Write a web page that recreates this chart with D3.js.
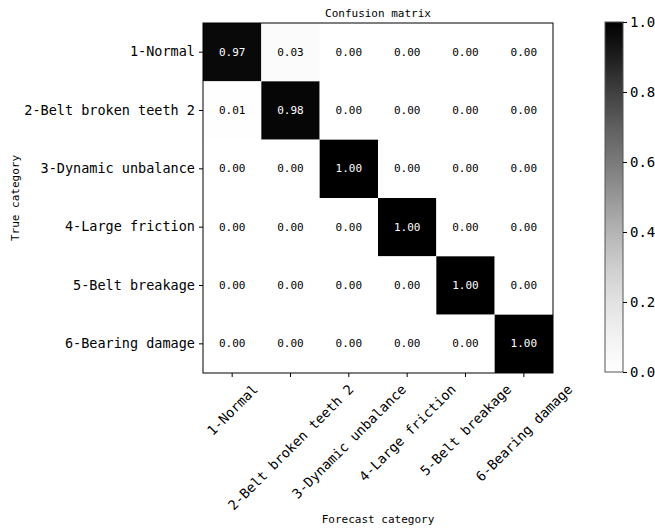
<!DOCTYPE html>
<html>
<head>
<meta charset="utf-8">
<script src="https://cdn.jsdelivr.net/npm/d3@7"></script>
<style>
  body { margin: 0; background: #fff; }
  text { font-family: "DejaVu Sans Mono", monospace; fill: #000; }
</style>
</head>
<body>
<div id="chart"></div>
<script>
// categories (rows = true, cols = forecast)
const categories = ['1-Normal', '2-Belt broken teeth 2', '3-Dynamic unbalance',
                    '4-Large friction', '5-Belt breakage', '6-Bearing damage'];

// confusion values, one array per true category
const row1 = [0.97, 0.03, 0.00, 0.00, 0.00, 0.00];
const row2 = [0.01, 0.98, 0.00, 0.00, 0.00, 0.00];
const row3 = [0.00, 0.00, 1.00, 0.00, 0.00, 0.00];
const row4 = [0.00, 0.00, 0.00, 1.00, 0.00, 0.00];
const row5 = [0.00, 0.00, 0.00, 0.00, 1.00, 0.00];
const row6 = [0.00, 0.00, 0.00, 0.00, 0.00, 1.00];
const matrix = [row1, row2, row3, row4, row5, row6];

const colorTicks = [0, 0.2, 0.4, 0.6, 0.8, 1.0];

const [w, h] = [655, 529];
const m = { left: 203, top: 23, size: 350 };

const svg = d3.select('#chart').append('svg')
    .attr('width', w)
    .attr('height', h);

// scales
const x = d3.scaleBand().domain(d3.range(6)).range([m.left, m.left + m.size]);
const y = d3.scaleBand().domain(d3.range(6)).range([m.top, m.top + m.size]);
const color = d3.scaleSequential(d3.interpolateGreys).domain([0, 1]);

// flatten cells
const cells = [];
matrix.forEach((r, i) => r.forEach((v, j) => cells.push({ i, j, v })));

svg.selectAll('rect.cell')
    .data(cells)
    .enter()
    .append('rect')
    .attr('class', 'cell')
    .attr('x', d => x(d.j))
    .attr('y', d => y(d.i))
    .attr('width', x.bandwidth())
    .attr('height', y.bandwidth())
    .attr('fill', d => color(d.v));

svg.selectAll('text.val')
    .data(cells)
    .enter()
    .append('text')
    .attr('class', 'val')
    .attr('x', d => x(d.j) + x.bandwidth() / 2)
    .attr('y', d => y(d.i) + y.bandwidth() / 2)
    .attr('text-anchor', 'middle')
    .attr('dominant-baseline', 'central')
    .style('font-size', '11px')
    .style('fill', d => d.v > 0.5 ? '#fff' : '#000')
    .text(d => d.v.toFixed(2));

// frame
svg.append('rect')
    .attr('x', m.left).attr('y', m.top)
    .attr('width', m.size).attr('height', m.size)
    .attr('fill', 'none').attr('stroke', '#000').attr('stroke-width', 1);

// y axis
const yAxis = svg.append('g')
    .attr('transform', 'translate(' + m.left + ',0)')
    .call(d3.axisLeft(y).tickSize(4).tickPadding(4).tickFormat(i => categories[i]));
yAxis.select('.domain').remove();
yAxis.selectAll('text').style('font-size', '13.5px');

// x axis
const xAxis = svg.append('g')
    .attr('transform', 'translate(0,' + (m.top + m.size) + ')')
    .call(d3.axisBottom(x).tickSize(4).tickFormat(''));
xAxis.select('.domain').remove();

// rotated x labels, centered under ticks like matplotlib ha='center'
const c45 = Math.SQRT1_2;
svg.selectAll('text.xl')
    .data(categories)
    .enter()
    .append('text')
    .attr('class', 'xl')
    .style('font-size', '13.5px')
    .attr('text-anchor', 'end')
    .attr('dominant-baseline', 'central')
    .text(d => d)
    .each(function (d, i) {
        const L = this.getComputedTextLength();
        const ax = x(i) + x.bandwidth() / 2 + L * c45 / 2;
        const ay = m.top + m.size + 8 + 16 * 0.354;
        d3.select(this).attr('transform', 'translate(' + ax + ',' + ay + ') rotate(-45)');
    });

// titles
svg.append('text')
    .attr('x', m.left + m.size / 2).attr('y', 17)
    .attr('text-anchor', 'middle')
    .style('font-size', '11px')
    .text('Confusion matrix');

svg.append('text')
    .attr('x', m.left + m.size / 2).attr('y', 523)
    .attr('text-anchor', 'middle')
    .style('font-size', '11px')
    .text('Forecast category');

svg.append('text')
    .attr('transform', 'translate(19,198) rotate(-90)')
    .attr('text-anchor', 'middle')
    .style('font-size', '11px')
    .text('True category');

// colorbar
const cb = { x: 605, w: 18, top: 22, bottom: 372 };
const grad = svg.append('defs').append('linearGradient')
    .attr('id', 'greys')
    .attr('x1', 0).attr('y1', 1).attr('x2', 0).attr('y2', 0);
d3.range(0, 1.0001, 0.1).forEach(t => {
    grad.append('stop').attr('offset', t).attr('stop-color', color(t));
});
svg.append('rect')
    .attr('x', cb.x).attr('y', cb.top)
    .attr('width', cb.w).attr('height', cb.bottom - cb.top)
    .attr('fill', 'url(#greys)')
    .attr('stroke', '#555').attr('stroke-width', 1);

const cScale = d3.scaleLinear().domain([0, 1]).range([cb.bottom, cb.top]);
const cAxis = svg.append('g')
    .attr('transform', 'translate(' + (cb.x + cb.w) + ',0)')
    .call(d3.axisRight(cScale).tickValues(colorTicks).tickSize(4).tickPadding(3).tickFormat(d3.format('.1f')));
cAxis.select('.domain').remove();
cAxis.selectAll('text').style('font-size', '14px');
</script>
</body>
</html>
